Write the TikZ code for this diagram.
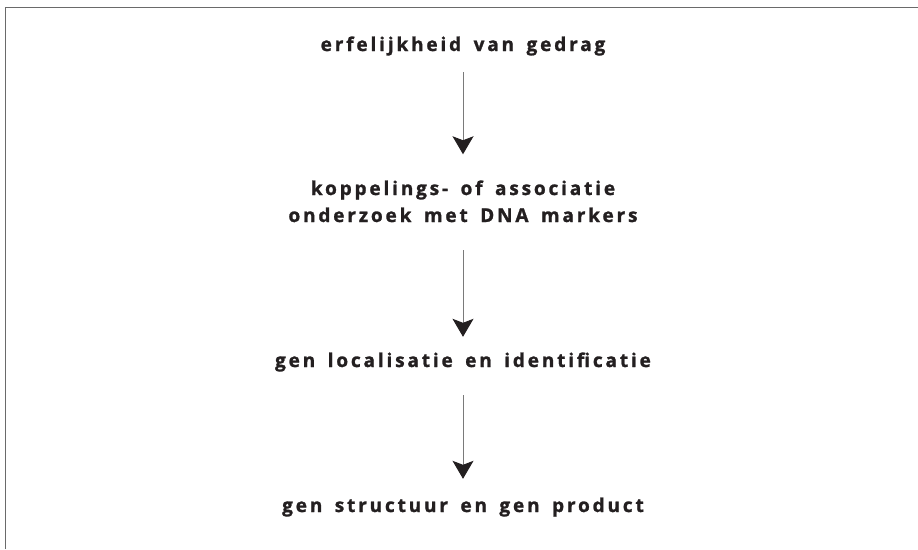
\documentclass[tikz,border=0pt]{standalone}
\usepackage{fontspec}
\setmainfont{Open Sans}[LetterSpace=15, WordSpace=1.6, BoldFeatures={FakeBold=1.3}]
\usetikzlibrary{arrows.meta}
\definecolor{inktext}{HTML}{231F20}
\definecolor{framegray}{HTML}{6A6A6A}
\definecolor{shaftgray}{HTML}{7A7A7A}
\tikzset{>=latex}

\begin{document}
\begin{tikzpicture}[
    x=1pt, y=-1pt,
    every node/.style={font=\fontsize{19}{27}\selectfont\bfseries, text=inktext,
        inner sep=0pt, align=center, anchor=base},
    oneline/.style={text height=14pt, text depth=5pt},
    flow/.style={draw=shaftgray, line width=1pt,
        -{Stealth[length=18pt, width=21pt, inset=4pt, inktext]}}
]
    \useasboundingbox (0,0) rectangle (918,549);
    % Frame
    \draw[framegray, line width=1.5pt] (5.5,549) -- (5.5,7.5) -- (918,7.5);

    % Nodes
    \node[oneline] (Erfelijkheid) at (463,51) {erfelijkheid van gedrag};
    \node (Koppeling) at (463,222) {koppelings- of associatie\\ onderzoek met DNA markers};
    \node[oneline] (Localisatie) at (463,367) {gen localisatie en identificatie};
    \node[oneline] (Structuur) at (463,512) {gen structuur en gen product};

    % Arrows
    \draw[flow, shorten <=16pt, shorten >=26pt] (Erfelijkheid) -- (Koppeling);
    \draw[flow, shorten <=28pt, shorten >=16pt] (Koppeling) -- (Localisatie);
    \draw[flow, shorten <=23pt, shorten >=19pt] (Localisatie) -- (Structuur);
\end{tikzpicture}
\end{document}
